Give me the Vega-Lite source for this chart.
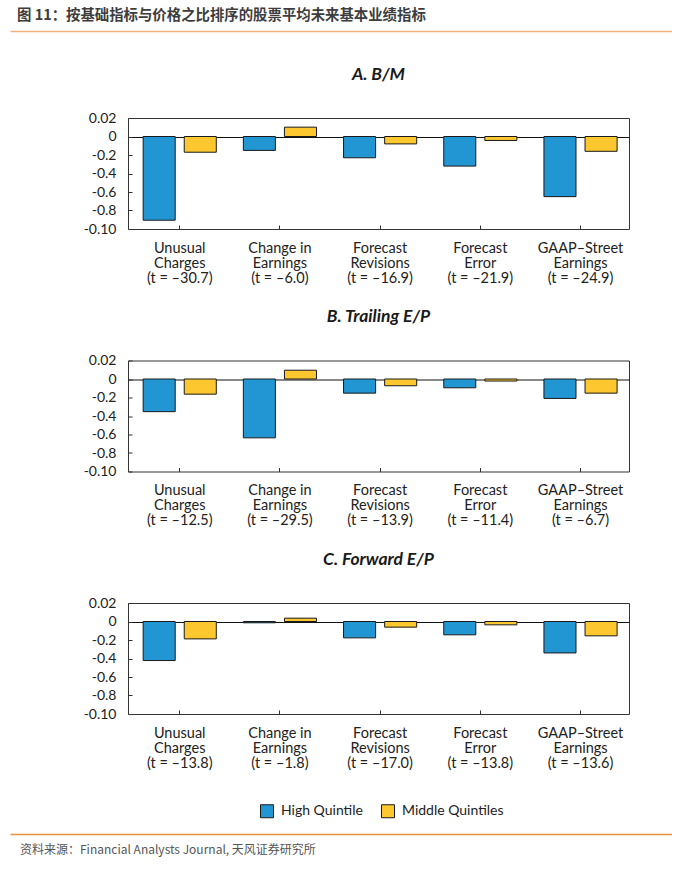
{
  "$schema": "https://vega.github.io/schema/vega-lite/v6.json",
  "padding": {"left": 10, "top": 0, "right": 0, "bottom": 0},
  "config": {"view": {"stroke": null}, "font": "Lato"},
  "datasets": {
    "bars": [
      {"panel": "A", "cat": "Unusual|Charges|(t = –30.7)", "series": "High Quintile", "value": -0.0905},
      {"panel": "A", "cat": "Unusual|Charges|(t = –30.7)", "series": "Middle Quintiles", "value": -0.017},
      {"panel": "A", "cat": "Change in|Earnings|(t = –6.0)", "series": "High Quintile", "value": -0.015},
      {"panel": "A", "cat": "Change in|Earnings|(t = –6.0)", "series": "Middle Quintiles", "value": 0.0101},
      {"panel": "A", "cat": "Forecast|Revisions|(t = –16.9)", "series": "High Quintile", "value": -0.023},
      {"panel": "A", "cat": "Forecast|Revisions|(t = –16.9)", "series": "Middle Quintiles", "value": -0.008},
      {"panel": "A", "cat": "Forecast|Error|(t = –21.9)", "series": "High Quintile", "value": -0.032},
      {"panel": "A", "cat": "Forecast|Error|(t = –21.9)", "series": "Middle Quintiles", "value": -0.0043},
      {"panel": "A", "cat": "GAAP–Street|Earnings|(t = –24.9)", "series": "High Quintile", "value": -0.065},
      {"panel": "A", "cat": "GAAP–Street|Earnings|(t = –24.9)", "series": "Middle Quintiles", "value": -0.016},
      {"panel": "B", "cat": "Unusual|Charges|(t = –12.5)", "series": "High Quintile", "value": -0.0353},
      {"panel": "B", "cat": "Unusual|Charges|(t = –12.5)", "series": "Middle Quintiles", "value": -0.0164},
      {"panel": "B", "cat": "Change in|Earnings|(t = –29.5)", "series": "High Quintile", "value": -0.0636},
      {"panel": "B", "cat": "Change in|Earnings|(t = –29.5)", "series": "Middle Quintiles", "value": 0.0095},
      {"panel": "B", "cat": "Forecast|Revisions|(t = –13.9)", "series": "High Quintile", "value": -0.0153},
      {"panel": "B", "cat": "Forecast|Revisions|(t = –13.9)", "series": "Middle Quintiles", "value": -0.0073},
      {"panel": "B", "cat": "Forecast|Error|(t = –11.4)", "series": "High Quintile", "value": -0.0095},
      {"panel": "B", "cat": "Forecast|Error|(t = –11.4)", "series": "Middle Quintiles", "value": -0.0022},
      {"panel": "B", "cat": "GAAP–Street|Earnings|(t = –6.7)", "series": "High Quintile", "value": -0.021},
      {"panel": "B", "cat": "GAAP–Street|Earnings|(t = –6.7)", "series": "Middle Quintiles", "value": -0.0153},
      {"panel": "C", "cat": "Unusual|Charges|(t = –13.8)", "series": "High Quintile", "value": -0.0422},
      {"panel": "C", "cat": "Unusual|Charges|(t = –13.8)", "series": "Middle Quintiles", "value": -0.0188},
      {"panel": "C", "cat": "Change in|Earnings|(t = –1.8)", "series": "High Quintile", "value": -0.0014},
      {"panel": "C", "cat": "Change in|Earnings|(t = –1.8)", "series": "Middle Quintiles", "value": 0.0036},
      {"panel": "C", "cat": "Forecast|Revisions|(t = –17.0)", "series": "High Quintile", "value": -0.0177},
      {"panel": "C", "cat": "Forecast|Revisions|(t = –17.0)", "series": "Middle Quintiles", "value": -0.0061},
      {"panel": "C", "cat": "Forecast|Error|(t = –13.8)", "series": "High Quintile", "value": -0.0144},
      {"panel": "C", "cat": "Forecast|Error|(t = –13.8)", "series": "Middle Quintiles", "value": -0.0036},
      {"panel": "C", "cat": "GAAP–Street|Earnings|(t = –13.6)", "series": "High Quintile", "value": -0.034},
      {"panel": "C", "cat": "GAAP–Street|Earnings|(t = –13.6)", "series": "Middle Quintiles", "value": -0.0155}
    ]
  },
  "columns": 1,
  "align": "none",
  "spacing": 0,
  "concat": [
    {
      "width": 662,
      "height": 31,
      "data": {"values": [{"label": "图 11：按基础指标与价格之比排序的股票平均未来基本业绩指标", "pos": 0}]},
      "mark": {"type": "text", "align": "left", "baseline": "middle", "dx": 7, "font": "Noto Sans CJK SC", "fontSize": 14.4, "fontWeight": "bold", "color": "#3d3d3d"},
      "encoding": {
        "x": {"field": "pos", "type": "quantitative", "scale": {"domain": [0, 1]}, "axis": {"domain": true, "domainColor": "#f5b27a", "domainWidth": 1.5, "ticks": false, "labels": false, "grid": false, "title": null, "minExtent": 34, "maxExtent": 34}},
        "text": {"field": "label"}
      }
    },
    {
      "spacing": 0,
      "hconcat": [
        {"width": 1, "height": 1, "data": {"values": []}, "mark": {"type": "point", "opacity": 0}},
        {
          "spacing": 22.5,
          "resolve": {"scale": {"color": "independent"}, "legend": {"color": "independent"}},
          "vconcat": [
            {
              "title": {"text": "A. B/M", "font": "Lato", "fontSize": 17.5, "fontWeight": "bold", "fontStyle": "italic", "color": "#1a1a1a", "anchor": "middle", "offset": 28},
              "width": 501,
              "height": 111,
              "view": {"stroke": "#333", "strokeWidth": 1},
              "data": {"name": "bars"},
              "transform": [{"filter": "datum.panel == 'A'"}],
              "mark": {"type": "bar", "stroke": "#1a1a1a", "strokeWidth": 1},
              "encoding": {
                "x": {"field": "cat", "type": "nominal", "sort": null, "scale": {"paddingInner": 0.27, "paddingOuter": 0.135, "align": 0.56}, "axis": {"title": null, "labelExpr": "split(datum.label, '|')", "labelAngle": 0, "labelFont": "Lato", "labelFontSize": 14.5, "labelColor": "#222", "labelLineHeight": 15, "labelBaseline": "top", "tickSize": 4, "offset": -4, "tickColor": "#333", "labelPadding": 12, "domain": false}},
                "xOffset": {"field": "series", "type": "nominal", "sort": ["High Quintile", "Middle Quintiles"], "scale": {"paddingInner": 0.22, "paddingOuter": 0}},
                "y": {"field": "value", "type": "quantitative", "stack": null, "scale": {"domain": [-0.1, 0.02], "nice": false}, "axis": {"title": null, "values": [0.02, 0, -0.02, -0.04, -0.06, -0.08, -0.1], "labelExpr": "datum.value > 0.01 ? '0.02' : datum.value > -0.01 ? '0' : datum.value < -0.09 ? '-0.10' : '-0.' + round(-datum.value * 100)", "labelOverlap": false, "labelFont": "Lato", "labelFontSize": 14, "labelColor": "#222", "tickSize": 4, "offset": -4, "tickColor": "#333", "labelPadding": 12, "domain": false, "grid": true, "gridColor": {"condition": {"test": "datum.value === 0", "value": "#111111"}, "value": "transparent"}, "gridWidth": 1, "minExtent": 120, "maxExtent": 120}},
                "color": {"field": "series", "type": "nominal", "scale": {"domain": ["High Quintile", "Middle Quintiles"], "range": ["#2196d3", "#fdc82f"]}, "legend": null}
              }
            },
            {
              "title": {"text": "B. Trailing E/P", "font": "Lato", "fontSize": 17.5, "fontWeight": "bold", "fontStyle": "italic", "color": "#1a1a1a", "anchor": "middle", "offset": 28},
              "width": 501,
              "height": 111,
              "view": {"stroke": "#333", "strokeWidth": 1},
              "data": {"name": "bars"},
              "transform": [{"filter": "datum.panel == 'B'"}],
              "mark": {"type": "bar", "stroke": "#1a1a1a", "strokeWidth": 1},
              "encoding": {
                "x": {"field": "cat", "type": "nominal", "sort": null, "scale": {"paddingInner": 0.27, "paddingOuter": 0.135, "align": 0.56}, "axis": {"title": null, "labelExpr": "split(datum.label, '|')", "labelAngle": 0, "labelFont": "Lato", "labelFontSize": 14.5, "labelColor": "#222", "labelLineHeight": 15, "labelBaseline": "top", "tickSize": 4, "offset": -4, "tickColor": "#333", "labelPadding": 12, "domain": false}},
                "xOffset": {"field": "series", "type": "nominal", "sort": ["High Quintile", "Middle Quintiles"], "scale": {"paddingInner": 0.22, "paddingOuter": 0}},
                "y": {"field": "value", "type": "quantitative", "stack": null, "scale": {"domain": [-0.1, 0.02], "nice": false}, "axis": {"title": null, "values": [0.02, 0, -0.02, -0.04, -0.06, -0.08, -0.1], "labelExpr": "datum.value > 0.01 ? '0.02' : datum.value > -0.01 ? '0' : datum.value < -0.09 ? '-0.10' : '-0.' + round(-datum.value * 100)", "labelOverlap": false, "labelFont": "Lato", "labelFontSize": 14, "labelColor": "#222", "tickSize": 4, "offset": -4, "tickColor": "#333", "labelPadding": 12, "domain": false, "grid": true, "gridColor": {"condition": {"test": "datum.value === 0", "value": "#111111"}, "value": "transparent"}, "gridWidth": 1, "minExtent": 120, "maxExtent": 120}},
                "color": {"field": "series", "type": "nominal", "scale": {"domain": ["High Quintile", "Middle Quintiles"], "range": ["#2196d3", "#fdc82f"]}, "legend": null}
              }
            },
            {
              "title": {"text": "C. Forward E/P", "font": "Lato", "fontSize": 17.5, "fontWeight": "bold", "fontStyle": "italic", "color": "#1a1a1a", "anchor": "middle", "offset": 28},
              "width": 501,
              "height": 111,
              "view": {"stroke": "#333", "strokeWidth": 1},
              "data": {"name": "bars"},
              "transform": [{"filter": "datum.panel == 'C'"}],
              "mark": {"type": "bar", "stroke": "#1a1a1a", "strokeWidth": 1},
              "encoding": {
                "x": {"field": "cat", "type": "nominal", "sort": null, "scale": {"paddingInner": 0.27, "paddingOuter": 0.135, "align": 0.56}, "axis": {"title": null, "labelExpr": "split(datum.label, '|')", "labelAngle": 0, "labelFont": "Lato", "labelFontSize": 14.5, "labelColor": "#222", "labelLineHeight": 15, "labelBaseline": "top", "tickSize": 4, "offset": -4, "tickColor": "#333", "labelPadding": 12, "domain": false}},
                "xOffset": {"field": "series", "type": "nominal", "sort": ["High Quintile", "Middle Quintiles"], "scale": {"paddingInner": 0.22, "paddingOuter": 0}},
                "y": {"field": "value", "type": "quantitative", "stack": null, "scale": {"domain": [-0.1, 0.02], "nice": false}, "axis": {"title": null, "values": [0.02, 0, -0.02, -0.04, -0.06, -0.08, -0.1], "labelExpr": "datum.value > 0.01 ? '0.02' : datum.value > -0.01 ? '0' : datum.value < -0.09 ? '-0.10' : '-0.' + round(-datum.value * 100)", "labelOverlap": false, "labelFont": "Lato", "labelFontSize": 14, "labelColor": "#222", "tickSize": 4, "offset": -4, "tickColor": "#333", "labelPadding": 12, "domain": false, "grid": true, "gridColor": {"condition": {"test": "datum.value === 0", "value": "#111111"}, "value": "transparent"}, "gridWidth": 1, "minExtent": 120, "maxExtent": 120}},
                "color": {"field": "series", "type": "nominal", "scale": {"domain": ["High Quintile", "Middle Quintiles"], "range": ["#2196d3", "#fdc82f"]}, "legend": {"orient": "none", "legendX": 132, "legendY": 201, "direction": "horizontal", "title": null, "symbolType": "square", "symbolSize": 169, "symbolStrokeColor": "#1a1a1a", "symbolStrokeWidth": 1, "labelFont": "Lato", "labelFontSize": 14, "labelColor": "#222", "columnPadding": 16, "labelOffset": 7}}
              }
            }
          ]
        }
      ]
    },
    {
      "width": 662,
      "height": 32,
      "data": {"values": [{"label": "资料来源：Financial Analysts Journal, 天风证券研究所", "pos": 0}]},
      "mark": {"type": "text", "align": "left", "baseline": "middle", "dx": 10, "font": "Noto Sans CJK SC", "fontSize": 12, "color": "#555"},
      "encoding": {
        "x": {"field": "pos", "type": "quantitative", "scale": {"domain": [0, 1]}, "axis": {"orient": "top", "domain": true, "domainColor": "#e8913a", "domainWidth": 1.5, "ticks": false, "labels": false, "grid": false, "title": null, "minExtent": 13, "maxExtent": 13}},
        "text": {"field": "label"}
      }
    }
  ]
}
